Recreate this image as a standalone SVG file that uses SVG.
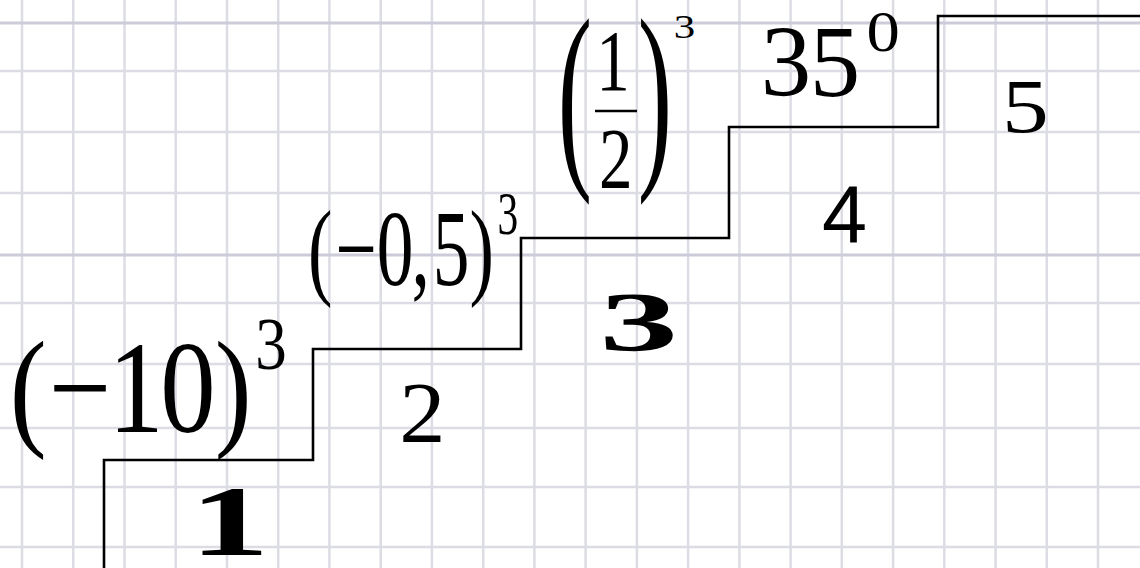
<svg xmlns="http://www.w3.org/2000/svg" width="1140" height="568" viewBox="0 0 1140 568">
<style>
.grid line{stroke:#dcdce4;stroke-width:2.5}
.grid line.d{stroke:#cbcbd9;stroke-width:3}
.stair{fill:none;stroke:#000;stroke-width:2.6}
text{fill:#000}
</style>
<rect width="1140" height="568" fill="#fff"/>
<g class="grid" id="grid">
<line x1="22" y1="0" x2="22" y2="568"/>
<line x1="73.2" y1="0" x2="73.2" y2="568"/>
<line x1="124.5" y1="0" x2="124.5" y2="568"/>
<line x1="175.7" y1="0" x2="175.7" y2="568"/>
<line x1="227" y1="0" x2="227" y2="568"/>
<line x1="278.2" y1="0" x2="278.2" y2="568"/>
<line x1="329.4" y1="0" x2="329.4" y2="568"/>
<line x1="380.7" y1="0" x2="380.7" y2="568"/>
<line x1="431.9" y1="0" x2="431.9" y2="568"/>
<line x1="483.2" y1="0" x2="483.2" y2="568"/>
<line x1="534.4" y1="0" x2="534.4" y2="568"/>
<line x1="585.6" y1="0" x2="585.6" y2="568"/>
<line x1="636.9" y1="0" x2="636.9" y2="568"/>
<line x1="688.1" y1="0" x2="688.1" y2="568"/>
<line x1="739.4" y1="0" x2="739.4" y2="568"/>
<line x1="790.6" y1="0" x2="790.6" y2="568"/>
<line x1="841.8" y1="0" x2="841.8" y2="568"/>
<line x1="893.1" y1="0" x2="893.1" y2="568"/>
<line x1="944.3" y1="0" x2="944.3" y2="568"/>
<line x1="995.6" y1="0" x2="995.6" y2="568"/>
<line x1="1046.8" y1="0" x2="1046.8" y2="568"/>
<line x1="1098" y1="0" x2="1098" y2="568"/>
<line class="d" x1="0" y1="23" x2="1140" y2="23"/>
<line x1="0" y1="71" x2="1140" y2="71"/>
<line x1="0" y1="132" x2="1140" y2="132"/>
<line x1="0" y1="193" x2="1140" y2="193"/>
<line class="d" x1="0" y1="255" x2="1140" y2="255"/>
<line x1="0" y1="303" x2="1140" y2="303"/>
<line x1="0" y1="364" x2="1140" y2="364"/>
<line x1="0" y1="428" x2="1140" y2="428"/>
<line x1="0" y1="487" x2="1140" y2="487"/>
<line x1="0" y1="547" x2="1140" y2="547"/>
</g>
<g id="connectors">
<path class="stair" d="M104 568 V460 H313 V349 H521 V238 H729 V127 H938 V16 H1140"/>
</g>
<g id="expr1">
<text font-family="Liberation Serif, serif" transform="translate(9.66,0) scale(0.84,1)" font-size="132" y="432"><tspan x="0">(</tspan><tspan x="46.4">−</tspan><tspan x="117.5">1</tspan><tspan x="179.4">0</tspan><tspan x="244.2">)</tspan><tspan x="292.5" y="369" font-size="75">3</tspan></text>
</g>
<g id="expr2">
<text font-family="Liberation Serif, serif" transform="translate(308.1,0) scale(0.68,1)" font-size="108" y="285.5"><tspan x="0">(</tspan><tspan x="39.9">−</tspan><tspan x="100.8">0</tspan><tspan x="152">,</tspan><tspan x="183.3">5</tspan><tspan x="237.3">)</tspan><tspan x="278.7" y="234" font-size="61">3</tspan></text>
</g>
<g id="expr3">
<text font-family="Liberation Serif, serif" transform="translate(557.8,0) scale(0.5,1)" font-size="206" y="160.8"><tspan x="0">(</tspan><tspan x="159.8">)</tspan></text>
<text font-family="Liberation Serif, serif" transform="translate(613,0) scale(0.78,1)" font-size="86" text-anchor="middle"><tspan x="0" y="90">1</tspan><tspan x="3.7" y="188">2</tspan></text>
<line x1="595" y1="111" x2="637" y2="111" stroke="#000" stroke-width="2.5"/>
<text font-family="Liberation Serif, serif" transform="translate(673.8,0) scale(1.3,1)" font-size="33" x="0" y="38">3</text>
</g>
<g id="expr4">
<text font-family="Liberation Serif, serif" font-size="101" y="95.6"><tspan x="760.7">3</tspan><tspan x="809.8">5</tspan></text>
<text font-family="Liberation Serif, serif" transform="translate(866.6,0) scale(1.18,1)" font-size="56.5" x="0" y="51.2">0</text>
</g>
<g id="step1"><text font-family="Liberation Serif, serif" font-weight="bold" transform="translate(189.7,0) scale(1.61,1)" font-size="99" x="0" y="555">1</text></g>
<g id="step2"><text font-family="Liberation Serif, serif" transform="translate(399.2,0) scale(1.06,1)" font-size="87.3" x="0" y="442">2</text></g>
<g id="step3"><text font-family="Liberation Serif, serif" font-weight="bold" transform="translate(599.5,0) scale(1.84,1)" font-size="85.5" x="0" y="350.8">3</text></g>
<g id="step4"><text font-family="Liberation Sans, sans-serif" font-size="81" x="822" y="243">4</text></g>
<g id="step5"><text font-family="Liberation Serif, serif" transform="translate(1002,0) scale(1.24,1)" font-size="75.5" x="0" y="132">5</text></g>
</svg>
